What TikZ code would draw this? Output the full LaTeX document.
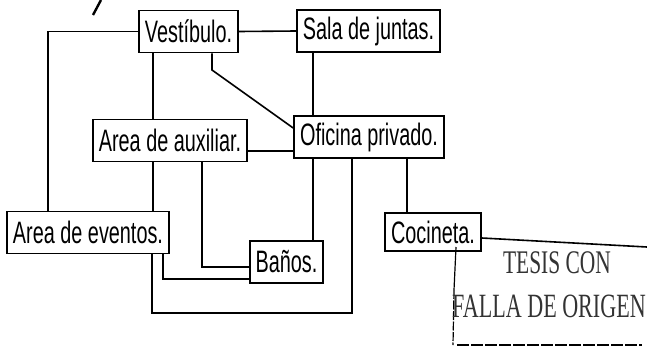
\documentclass[tikz,border=0pt]{standalone}
\usepackage{fontspec}
\setmainfont{Liberation Sans}[FakeStretch=0.64]
\newfontfamily\stampfont{Liberation Serif}[FakeStretch=0.65]

\begin{document}
\begin{tikzpicture}[x=1pt,y=-1pt,
  room/.style={draw,line width=1.8pt,inner xsep=6pt,minimum height=42pt,
    font=\fontsize{31}{33}\selectfont},
  link/.style={line width=1.6pt},
  stamp/.style={font=\stampfont\fontsize{33}{35}\selectfont,text=black!80}]
  \useasboundingbox (0,0) rectangle (647,351);

  \node[room] (vest) at (188.5,31.5) {Vestíbulo.};
  \node[room] (sala) at (368.5,31) {Sala de juntas.};
  \node[room] (aux) at (170,140.5) {Area de auxiliar.};
  \node[room] (ofi) at (369,137) {Oficina privado.};
  \node[room] (ev) at (88,232.5) {Area de eventos.};
  \node[room] (banos) at (286.5,262) {Baños.};
  \node[room,minimum height=38pt] (coc) at (433,232) {Cocineta.};

  \coordinate (bend) at (212,70);
  \coordinate (lowrun) at (250,313);

  \draw[link] (vest.west) -| ([xshift=-40pt]ev.north);
  \draw[link] (vest.east) -- (sala.west);
  \draw[link] ([xshift=-35.5pt]vest.south) -- ([xshift=-35.5pt]vest.south |- aux.north);
  \draw[link] (vest.south -| bend) -- (bend) -- ([yshift=9pt]ofi.west);
  \draw[link] ([xshift=-55.5pt]sala.south) -- ([xshift=-55.5pt]sala.south |- ofi.north);
  \draw[link] ([yshift=-10.5pt]aux.east) -- ([yshift=-10.5pt]aux.east -| ofi.west);
  \draw[link] ([xshift=-17pt]aux.south) -- ([xshift=-17pt]aux.south |- ev.north);
  \draw[link] ([xshift=32pt]aux.south) |- ([yshift=-5pt]banos.west);
  \draw[link] ([xshift=-56pt]ofi.south) -- ([xshift=-56pt]ofi.south |- banos.north);
  \draw[link] ([xshift=-17pt]ofi.south) |- (lowrun) -| ([xshift=64pt]ev.south);
  \draw[link] ([xshift=75pt]ev.south) |- ([yshift=-17pt]banos.west);
  \draw[link] ([xshift=38pt]ofi.south) -- ([xshift=38pt]ofi.south |- coc.north);

  \draw[line width=2.4pt] (101,0) -- (93,15);

  \coordinate (stampnw) at (456,247);
  \coordinate (stampne) at (647,247);
  \coordinate (stampsw) at (453,345);
  \coordinate (stampse) at (642,345);
  \draw[link] ([yshift=-6pt]coc.east) -- (stampne);
  \draw[line width=1.2pt] (stampnw) -- (454,290);
  \draw[line width=1.2pt,dash pattern=on 9pt off 1.5pt] (454,290) -- (stampsw);
  \draw[line width=1.2pt,dash pattern=on 12pt off 2pt] ([xshift=4pt]stampsw) -- (stampse);
  \node[stamp] (tesis) at (557,263) {TESIS CON};
  \node[stamp,font=\stampfont\fontsize{34}{36}\selectfont] (falla) at (549,306) {FALLA DE ORIGEN};
\end{tikzpicture}
\end{document}
